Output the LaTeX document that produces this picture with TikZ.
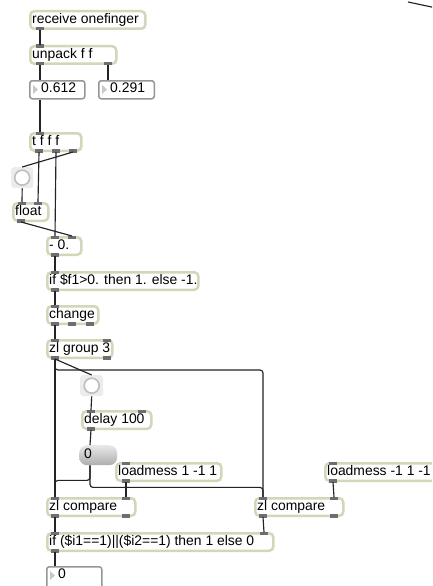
\documentclass[tikz,border=0pt]{standalone}
\usepackage{fontspec}
\setmainfont{Liberation Sans}
\usetikzlibrary{calc}
\definecolor{objborder}{RGB}{208,216,186}
\definecolor{portc}{RGB}{110,110,110}
\definecolor{numborder}{RGB}{150,150,150}
\definecolor{cordc}{RGB}{35,35,35}
\definecolor{bangbg}{RGB}{236,236,236}
\definecolor{bangring}{RGB}{190,190,190}
\definecolor{tric}{RGB}{200,200,200}
\tikzset{
  objbox/.style={draw=objborder, line width=2.5pt, fill=white, rounded corners=4pt, inner sep=0pt},
  numbox/.style={draw=numborder, line width=1.5pt, fill=white, rounded corners=2.5pt, inner sep=0pt},
  bangbox/.style={fill=bangbg, rounded corners=3pt, inner sep=0pt},
  msgbox/.style={top color=black!9, bottom color=black!32, rounded corners=8pt, inner sep=0pt},
  txt/.style={inner sep=0pt, font=\fontsize{13.9}{15}\selectfont, text height=9.8pt, text depth=3pt},
  cord/.style={draw=cordc, line width=1.15pt},
  port/.style={fill=portc},
}
% name, x, y, w, h, text
\newcommand\mobj[6]{%
  \node[objbox, minimum width=#4pt, minimum height=#5pt, anchor=north west] (#1) at (#2,#3) {};
  \node[txt, anchor=west] (#1t) at ([xshift=3pt]#1.west) {#6};}
% name, x, y, w, h, text
\newcommand\nobj[6]{%
  \node[numbox, minimum width=#4pt, minimum height=#5pt, anchor=north west] (#1) at (#2,#3) {};
  \fill[tric] ($(#1.north west)+(4,5)$) -- ++(0,9) -- ++(5,-4.5) -- cycle;
  \node[txt, anchor=west] (#1t) at ([xshift=12pt]#1.north west |- 0,{#3+9.5}) {#6};}
% box, index, offset
\newcommand\inport[3]{%
  \coordinate (#1-i#2) at ($(#1.north west)+(#3,0)$);
  \fill[port] ($(#1-i#2)+(-4,-0.5)$) rectangle ++(8,3.5);}
\newcommand\outport[3]{%
  \coordinate (#1-o#2) at ($(#1.south west)+(#3,0)$);
  \fill[port] ($(#1-o#2)+(-4,0.5)$) rectangle ++(8,-3.5);}
\begin{document}
\begin{tikzpicture}[x=1pt,y=-1pt]
\useasboundingbox (0,0) rectangle (432,586);
\fill[white] (0,0) rectangle (432,586);
\clip (0,0) rectangle (432,586);

% objects
\mobj{recv}{29}{10}{115}{17.5}{receive onefinger}
\mobj{unpack}{29}{45}{86}{17.5}{unpack f f}
\nobj{n1}{29}{80}{55}{18}{0.612}
\nobj{n2}{98}{80}{55.5}{18}{0.291}
\mobj{trig}{29}{132}{51}{17.5}{t f f f}
\node[bangbox, minimum width=22pt, minimum height=21pt, anchor=north west] (bang1) at (11,167) {};
\draw[bangring, line width=1.6pt, fill=white] (bang1.center) circle (7.5);
\mobj{float}{12}{202}{35}{17.5}{float}
\mobj{minus}{46}{236}{34}{17.5}{- 0.}
\mobj{iff}{46}{271}{151}{17.5}{if \$f1>0. then 1. else -1.}
\mobj{change}{46}{305}{51}{17.5}{change}
\mobj{zlg}{46}{339}{65}{17.5}{zl group 3}
\node[bangbox, minimum width=23pt, minimum height=21pt, anchor=north west] (bang2) at (80,375) {};
\draw[bangring, line width=1.6pt, fill=white] (bang2.center) circle (7.5);
\mobj{delay}{81}{410}{69}{17.5}{delay 100}
\node[msgbox, minimum width=38pt, minimum height=20pt, anchor=north west] (msg) at (79,445) {};
\node[txt, anchor=west] (msgt) at ([xshift=5pt]msg.west) {0};
\mobj{lmA}{115}{462}{105}{17.5}{loadmess 1 -1 1}
\mobj{lmB}{324}{462}{120}{17.5}{loadmess -1 1 -1}
\mobj{zlcA}{46}{497}{88}{17.5}{zl compare}
\mobj{zlcB}{254}{497}{88}{17.5}{zl compare}
\mobj{ifor}{46}{532}{226}{17.5}{if (\$i1==1)||(\$i2==1) then 1 else 0}
\nobj{n3}{46}{566}{55}{24}{0}

% ports
\outport{recv}{1}{11}
\inport{unpack}{1}{11}
\outport{unpack}{1}{11}
\outport{unpack}{2}{79}
\coordinate (n1-i1) at ($(n1.north west)+(11,0)$);
\coordinate (n1-o1) at ($(n1.south west)+(11,0)$);
\coordinate (n2-i1) at ($(n2.north west)+(10,0)$);
\coordinate (n3-i1) at ($(n3.north west)+(9,0)$);
\inport{trig}{1}{11}
\outport{trig}{1}{10}
\outport{trig}{2}{27}
\outport{trig}{3}{44}
\inport{float}{1}{10}
\inport{float}{2}{26}
\outport{float}{1}{9}
\inport{minus}{1}{9}
\inport{minus}{2}{26}
\outport{minus}{1}{9}
\inport{iff}{1}{9}
\outport{iff}{1}{9}
\inport{change}{1}{9}
\outport{change}{1}{9}
\outport{change}{2}{26}
\outport{change}{3}{44}
\inport{zlg}{1}{9}
\inport{zlg}{2}{61}
\outport{zlg}{1}{9}
\outport{zlg}{2}{61}
\inport{delay}{1}{10}
\inport{delay}{2}{61}
\outport{delay}{1}{10}
\coordinate (msg-i1) at ($(msg.north west)+(11,0)$);
\coordinate (msg-o1) at ($(msg.south west)+(11,0)$);
\inport{lmA}{1}{11}
\outport{lmA}{1}{11}
\inport{lmB}{1}{9}
\outport{lmB}{1}{9}
\inport{zlcA}{1}{9}
\inport{zlcA}{2}{80}
\outport{zlcA}{1}{9}
\outport{zlcA}{2}{80}
\inport{zlcB}{1}{9}
\inport{zlcB}{2}{80}
\outport{zlcB}{1}{9}
\outport{zlcB}{2}{80}
\inport{ifor}{1}{9}
\inport{ifor}{2}{218}
\outport{ifor}{1}{9}

% cords
\draw[cord] (recv-o1) -- (unpack-i1);
\draw[cord] (unpack-o1) -- (n1-i1);
\draw[cord] (unpack-o2) -- (n2-i1);
\draw[cord] (n1-o1) -- (trig-i1);
\draw[cord] (trig-o3) -- (bang1.north);
\draw[cord] (trig-o1) -- (float-i2);
\draw[cord] (trig-o2) -- (minus-i1);
\draw[cord] (bang1.south) -- (float-i1);
\draw[cord] (float-o1) -- (minus-i2);
\draw[cord] (minus-o1) -- (iff-i1);
\draw[cord] (iff-o1) -- (change-i1);
\draw[cord] (change-o1) -- (zlg-i1);
\draw[cord] (zlg-o1) -- (bang2.north);
\draw[cord] (zlg-o1) -- (zlcA-i1);
\draw[cord, rounded corners=3pt] (zlg-o1) -- ++(0,11) -| (zlcB-i1);
\draw[cord] (bang2.south) -- (delay-i1);
\draw[cord] (delay-o1) -- (msg-i1);
\draw[cord, rounded corners=3pt] (msg-o1) -- ++(0,15) -| (zlcA-i1);
\draw[cord, rounded corners=3pt] (msg-o1) -- ++(0,22) -| (zlcB-i1);
\draw[cord] (lmA-o1) -- (zlcA-i2);
\draw[cord] (lmB-o1) -- (zlcB-i2);
\draw[cord] (zlcA-o1) -- (ifor-i1);
\draw[cord] (zlcB-o1) -- (ifor-i2);
\draw[cord] (ifor-o1) -- (n3-i1);
\coordinate (strayA) at (408,2);
\coordinate (strayB) at (434,7.5);
\draw[cord] (strayA) -- (strayB);
\end{tikzpicture}
\end{document}
